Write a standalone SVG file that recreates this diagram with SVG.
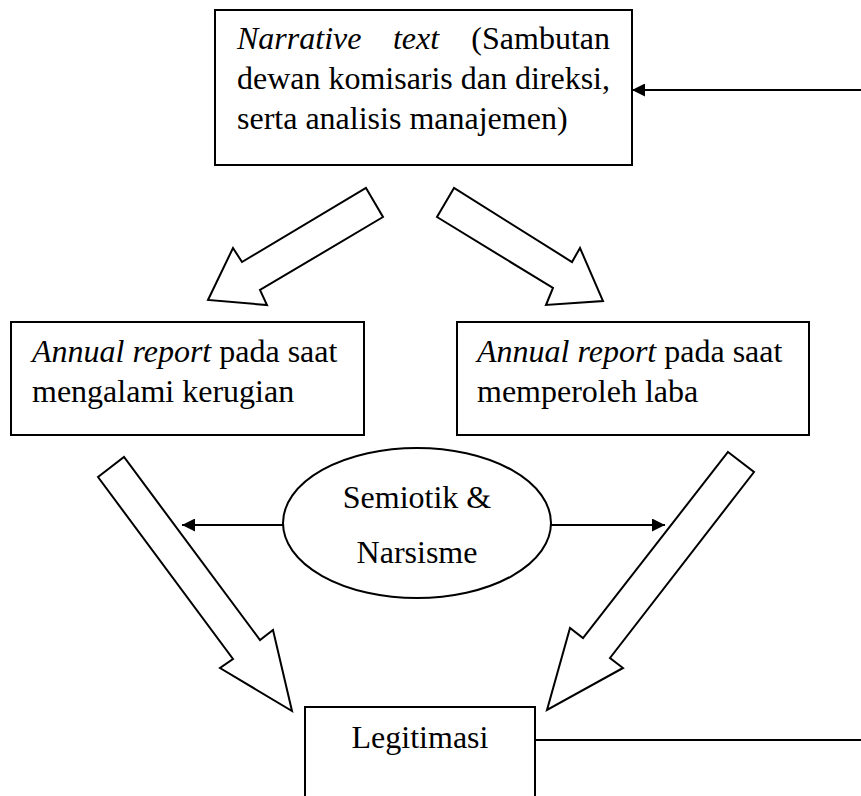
<svg xmlns="http://www.w3.org/2000/svg" width="861" height="796" viewBox="0 0 861 796">
<defs>
<style>
.box{fill:#fff;stroke:#000;stroke-width:2}
.blk{fill:#fff;stroke:#000;stroke-width:2;stroke-linejoin:miter}
.ln{fill:none;stroke:#000;stroke-width:2}
text{font-family:"Liberation Serif","Times New Roman",serif;font-size:32px;fill:#000}
.it{font-style:italic}
</style>
<marker id="ah" viewBox="0 0 10 10" refX="10" refY="5" markerWidth="8" markerHeight="7" markerUnits="userSpaceOnUse" orient="auto">
<path d="M0,0 L10,5 L0,10 z" fill="#000"/>
</marker>
<marker id="ahb" viewBox="0 0 10 10" refX="10" refY="5" markerWidth="15" markerHeight="13" markerUnits="userSpaceOnUse" orient="auto">
<path d="M0,0 L10,5 L0,10 z" fill="#000"/>
</marker>
</defs>
<rect width="861" height="796" fill="#fff"/>

<g id="connectors">
<line class="ln" x1="861" y1="90" x2="632" y2="90" marker-end="url(#ahb)"/>
<line class="ln" x1="535" y1="740" x2="861" y2="740"/>
<line class="ln" x1="283" y1="525" x2="182" y2="525" marker-end="url(#ahb)"/>
<line class="ln" x1="551" y1="525" x2="665" y2="525" marker-end="url(#ahb)"/>
<polygon class="blk" points="366,188 383,217 260,290 267,305 208,300 233,248 242,262"/>
<polygon class="blk" points="454,188 437,217 553,288 546,305 603,301 580,248 572,262"/>
<polygon class="blk" points="98,477 124,457 260,640 273,630 292,711 220,668 233,659"/>
<polygon class="blk" points="728,452 754,472 610,658 623,668 547,710 570,628 583,638"/>
</g>

<g id="narrative">
<rect class="box" x="215" y="10" width="417" height="155"/>
<text x="237" y="49" class="it">Narrative</text>
<text x="416" y="49" class="it" text-anchor="middle">text</text>
<text x="610" y="49" text-anchor="end">(Sambutan</text>
<text x="237" y="89" textLength="373" lengthAdjust="spacing">dewan komisaris dan direksi,</text>
<text x="237" y="129">serta analisis manajemen)</text>
</g>

<g id="rugi">
<rect class="box" x="11" y="322" width="353" height="113"/>
<text x="32" y="362"><tspan class="it">Annual report</tspan> pada saat</text>
<text x="32" y="402">mengalami kerugian</text>
</g>

<g id="laba">
<rect class="box" x="457" y="322" width="352" height="113"/>
<text x="477" y="362"><tspan class="it">Annual report</tspan> pada saat</text>
<text x="477" y="402">memperoleh laba</text>
</g>

<g id="semiotik">
<ellipse class="box" cx="417" cy="523" rx="134" ry="75"/>
<text x="417" y="508" text-anchor="middle">Semiotik &amp;</text>
<text x="417" y="563" text-anchor="middle">Narsisme</text>
</g>

<g id="legitimasi">
<rect class="box" x="305" y="707" width="230" height="100"/>
<text x="420" y="748" text-anchor="middle">Legitimasi</text>
</g>
</svg>
